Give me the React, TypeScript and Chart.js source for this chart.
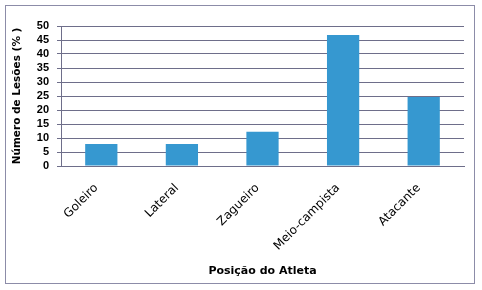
import React, { useEffect, useRef } from "react";
import { Chart, registerables } from "chart.js";

Chart.register(...registerables);

const categories = ["Goleiro", "Lateral", "Zagueiro", "Meio-campista", "Atacante"];
const values = [7.9, 7.9, 12.2, 46.8, 24.6];
const yTitle = "Número de Lesões (% )";
const xTitle = "Posição do Atleta";

const frame = {
  id: "frame",
  beforeDraw(chart: any) {
    const ctx = chart.ctx;
    ctx.save();
    ctx.fillStyle = "#ffffff";
    ctx.fillRect(0, 0, chart.width, chart.height);
    ctx.strokeStyle = "#8c8ca8";
    ctx.lineWidth = 1;
    ctx.strokeRect(5.5, 5.5, 469, 278);
    ctx.restore();
  },
};

export default function App() {
  const ref = useRef<HTMLCanvasElement>(null);
  useEffect(() => {
    document.body.style.margin = "0";
    const chart = new Chart(ref.current!, {
      type: "bar",
      data: {
        labels: categories,
        datasets: [
          {
            data: values,
            backgroundColor: "#3698d0",
            borderWidth: 0,
            barPercentage: 0.4,
            categoryPercentage: 1,
          },
        ],
      },
      options: {
        animation: false,
        responsive: false,
        layout: { padding: { left: 6, right: 18, top: 26, bottom: 0 } },
        plugins: { legend: { display: false }, tooltip: { enabled: false } },
        scales: {
          x: {
            grid: { display: false },
            border: { display: true, color: "#6e6e8a", width: 1 },
            ticks: {
              minRotation: 45,
              maxRotation: 45,
              autoSkip: false,
              labelOffset: -5,
              color: "#000",
              font: { family: "DejaVu Sans", size: 12 },
              padding: 7,
            },
            title: {
              display: true,
              text: xTitle,
              color: "#000",
              font: { family: "DejaVu Sans", size: 11, weight: "bold" },
              padding: { top: 0, bottom: 12 },
            },
            afterFit(scale: any) {
              scale.height = 124;
            },
          },
          y: {
            min: 0,
            max: 50,
            ticks: {
              stepSize: 5,
              autoSkip: false,
              color: "#000",
              font: { family: "Liberation Sans", size: 11, weight: "bold" },
              padding: 8,
            },
            grid: { color: "#6e6e8a", tickLength: 4, lineWidth: 1 },
            border: { display: true, color: "#6e6e8a", width: 1 },
            title: {
              display: true,
              text: yTitle,
              color: "#000",
              font: { family: "DejaVu Sans", size: 10.5, weight: "bold" },
              padding: { top: 5, bottom: 0 },
            },
            afterFit(scale: any) {
              scale.width = 55;
            },
          },
        },
      },
      plugins: [frame],
    });
    return () => chart.destroy();
  }, []);
  return (
    <div style={{ position: "fixed", left: 0, top: 0, width: 482, height: 290 }}>
      <canvas ref={ref} width={482} height={290} />
    </div>
  );
}
